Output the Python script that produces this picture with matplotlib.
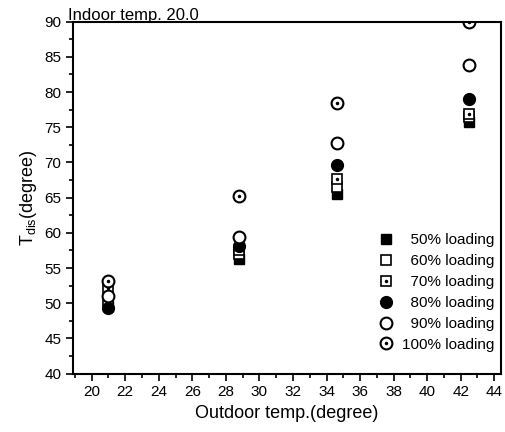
import numpy as np
import matplotlib
matplotlib.use("Agg")
import matplotlib.pyplot as plt
from matplotlib.ticker import MultipleLocator

plt.rcParams["font.family"] = ["Liberation Sans", "DejaVu Sans"]

# data
outdoor = [21.0, 28.8, 34.6, 42.5]
load_50 = [49.6, 56.3, 65.5, 75.8]
load_60 = [50.3, 57.0, 66.5, 76.4]
load_70 = [52.1, 57.5, 67.6, 76.9]
load_80 = [49.3, 58.2, 69.6, 79.0]
load_90 = [51.1, 59.4, 72.7, 83.9]
load_100 = [53.1, 65.3, 78.5, 90.0]
labels = ["  50% loading", "  60% loading", "  70% loading",
          "  80% loading", "  90% loading", "100% loading"]

fig = plt.figure(figsize=(5.05, 4.32), dpi=100)
ax = fig.add_axes([0.145, 0.135, 0.847, 0.815])

ms = 7.5
h50, = ax.plot(outdoor, load_50, "s", color="black", ms=ms, ls="none")
h60, = ax.plot(outdoor, load_60, "s", mfc="white", mec="black", mew=1.2, ms=ms, ls="none")
h70a, = ax.plot(outdoor, load_70, "s", mfc="white", mec="black", mew=1.2, ms=ms, ls="none")
h70b, = ax.plot(outdoor, load_70, "o", color="black", ms=1.5, ls="none")
h80, = ax.plot(outdoor, load_80, "o", color="black", ms=ms + 1, ls="none")
h90, = ax.plot(outdoor, load_90, "o", mfc="white", mec="black", mew=1.5, ms=ms + 1, ls="none")
h100a, = ax.plot(outdoor, load_100, "o", mfc="white", mec="black", mew=1.5, ms=ms + 1, ls="none")
h100b, = ax.plot(outdoor, load_100, "o", color="black", ms=1.5, ls="none")

ax.set_xlim(18.9, 44.4)
ax.set_ylim(40, 90)
ax.xaxis.set_major_locator(MultipleLocator(2))
ax.xaxis.set_minor_locator(MultipleLocator(1))
ax.yaxis.set_major_locator(MultipleLocator(5))
ax.yaxis.set_minor_locator(MultipleLocator(2.5))
ax.tick_params(which="both", direction="out", width=1.2, labelsize=11)
ax.tick_params(which="major", length=5)
ax.tick_params(which="minor", length=3)
for sp in ax.spines.values():
    sp.set_linewidth(1.5)

ax.set_xlabel("Outdoor temp.(degree)", fontsize=13)
ax.set_ylabel(r"T$_{\mathregular{dis}}$(degree)", fontsize=13)
ax.text(-0.012, 0.995, "Indoor temp. 20.0", transform=ax.transAxes,
        ha="left", va="bottom", fontsize=12)

leg = ax.legend([h50, h60, (h70a, h70b), h80, h90, (h100a, h100b)], labels,
                loc="lower right", bbox_to_anchor=(1.0, 0.045), frameon=False,
                fontsize=11, handlelength=1.0, handletextpad=0.6,
                labelspacing=0.45, borderaxespad=0.0)

fig.savefig("out.png", dpi=100)
